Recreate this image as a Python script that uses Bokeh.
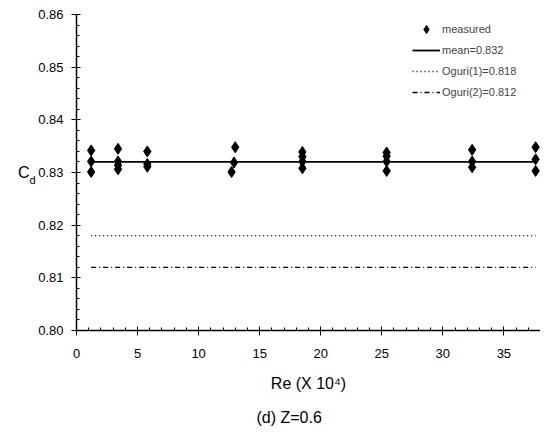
from bokeh.plotting import figure
from bokeh.models import Range1d, FixedTicker, PrintfTickFormatter, Title, Legend, LegendItem, LinearAxis
from bokeh.embed import file_html
from bokeh.resources import INLINE

# Data
re_groups = [1.2, 3.4, 5.8, 12.9, 18.5, 25.4, 32.4, 37.6]
cd_groups = [
    [0.8342, 0.8321, 0.8301],
    [0.8345, 0.8321, 0.8314, 0.8306],
    [0.8340, 0.8316, 0.8311],
    [0.8348, 0.8319, 0.8301],
    [0.8339, 0.8330, 0.8321, 0.8308],
    [0.8338, 0.8331, 0.8321, 0.8303],
    [0.8343, 0.8321, 0.8310],
    [0.8348, 0.8325, 0.8303],
]
re_offsets_13 = [13.0, 12.9, 12.7]
mean_cd = 0.832
oguri1 = 0.818
oguri2 = 0.812
x_ticks = [0, 5, 10, 15, 20, 25, 30, 35]
x_minor = list(range(0, 39))
y_ticks = [0.80, 0.81, 0.82, 0.83, 0.84, 0.85, 0.86]
y_minor = [0.800 + 0.002 * i for i in range(31)]

xs, ys = [], []
for r, cds in zip(re_groups, cd_groups):
    for k, c in enumerate(cds):
        if r == 12.9:
            xs.append(re_offsets_13[k])
        else:
            xs.append(r)
        ys.append(c)

FONT = "Liberation Sans"

p = figure(width=540, height=438, output_backend="svg", toolbar_location=None,
           x_range=Range1d(0, 38), y_range=Range1d(0.80, 0.86),
           min_border_left=76, min_border_right=0, min_border_top=14, min_border_bottom=105)
p.outline_line_color = None
p.xgrid.visible = False
p.ygrid.visible = False
p.background_fill_color = "white"
p.border_fill_color = "white"

x_lo, x_hi = min(xs), max(xs)
r_pts = p.scatter(xs, ys, marker="diamond", size=11, color="black")
r_mean = p.line([x_lo, x_hi], [mean_cd, mean_cd], line_color="black", line_width=1.8)
r_o1 = p.line([x_lo, x_hi], [oguri1, oguri1], line_color="black", line_width=1.3, line_dash="1 3")
r_o2 = p.line([x_lo, x_hi], [oguri2, oguri2], line_color="black", line_width=1.3, line_dash="5 3 1 3")

for ax in (p.xaxis[0], p.yaxis[0]):
    ax.axis_line_width = 1.5
    ax.axis_line_color = "black"
    ax.major_tick_line_color = "black"
    ax.minor_tick_line_color = "black"
    ax.major_tick_in = 4
    ax.major_tick_out = 5
    ax.minor_tick_in = 3
    ax.minor_tick_out = 0
    ax.major_label_text_font = FONT
    ax.major_label_text_font_size = "13px"
    ax.major_label_text_color = "black"

p.xaxis.ticker = FixedTicker(ticks=x_ticks, minor_ticks=x_minor)
p.yaxis.ticker = FixedTicker(ticks=y_ticks, minor_ticks=y_minor)
p.yaxis.formatter = PrintfTickFormatter(format="%.2f")
p.xaxis.major_label_standoff = 13
p.yaxis.major_label_standoff = 8

p.xaxis.axis_label = "Re (X 10\u2074)"
p.xaxis.axis_label_text_font = FONT
p.xaxis.axis_label_text_font_size = "16px"
p.xaxis.axis_label_text_font_style = "normal"
p.xaxis.axis_label_text_color = "black"
p.xaxis.axis_label_standoff = 14


def label_axis(text, size, standoff):
    a = LinearAxis(ticker=FixedTicker(ticks=[]), axis_line_color=None,
                   major_tick_line_color=None, minor_tick_line_color=None,
                   major_tick_out=0, major_tick_in=0, major_label_text_font_size="0px",
                   axis_label=text, axis_label_orientation="horizontal",
                   axis_label_standoff=standoff, axis_label_text_font=FONT,
                   axis_label_text_font_size=size, axis_label_text_font_style="normal",
                   axis_label_text_color="black")
    return a


p.add_layout(label_axis("\nd", "11px", 0), "left")
p.add_layout(label_axis("C", "16px", -3), "left")

p.add_layout(Title(text="(d)  Z=0.6", align="left", offset=180, standoff=25,
                   text_font=FONT, text_font_size="16px", text_font_style="normal",
                   text_color="black"), "below")

legend = Legend(items=[
    LegendItem(label="measured", renderers=[r_pts]),
    LegendItem(label="mean=0.832", renderers=[r_mean]),
    LegendItem(label="Oguri(1)=0.818", renderers=[r_o1]),
    LegendItem(label="Oguri(2)=0.812", renderers=[r_o2]),
], location=(336, 228), border_line_color=None, background_fill_alpha=0,
    padding=0, margin=0, spacing=1, glyph_width=28, glyph_height=20, label_height=20,
    label_standoff=2, label_text_font=FONT, label_text_font_size="11px")
p.add_layout(legend)

open("out.html", "w").write(file_html(p, INLINE))
